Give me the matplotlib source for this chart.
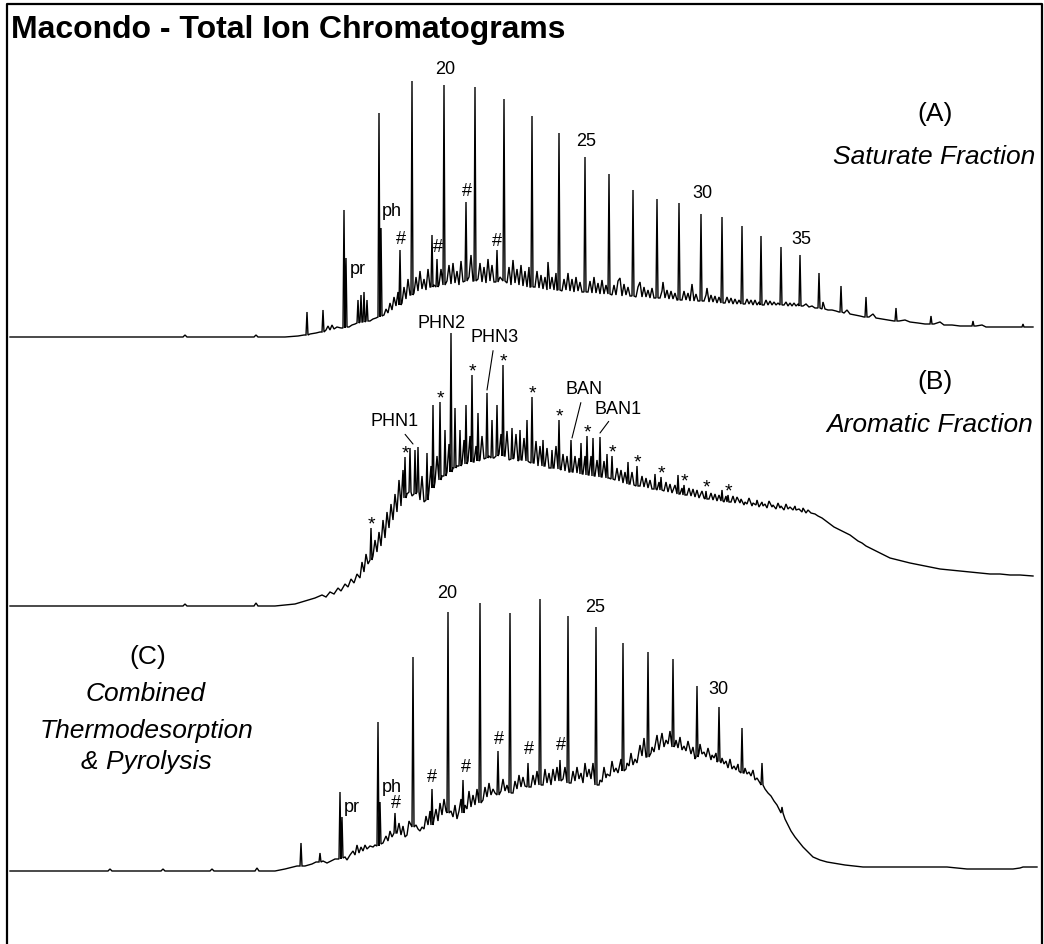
import numpy as np
import matplotlib
matplotlib.use("Agg")
import matplotlib.pyplot as plt

plt.rcParams['font.family'] = ['Liberation Sans', 'DejaVu Sans']

W, H = 1044, 944

# ---------------- (A) saturate fraction ----------------
# baseline / unresolved hump vertices: (scan, abundance)
sat_baseline = [
    (10, 0), (183, 0), (185, 2), (187, 0), (254, 0), (256, 2), (258, 0), (285, 0), (298, 1), (304, 2),
    (310, 3), (316, 4), (320, 5),
    (326, 7), (328, 11), (330, 7), (332, 12), (334, 8), (337, 10), (341, 9),
    (349, 10), (352, 12), (355, 13),
    (370, 16), (373, 18), (376, 19),
    (384, 22), (386, 28), (388, 24), (390, 34), (392, 27), (394, 40), (396, 31), (398, 45),
    (402, 34), (404, 50), (406, 38), (408, 58), (410, 42),
    (414, 44), (416, 60), (418, 46), (420, 66), (422, 48), (424, 58), (426, 47), (428, 68), (430, 50),
    (434, 52), (439, 52), (441, 68),
    (447, 56), (449, 72), (451, 53), (453, 74), (455, 54), (457, 66), (459, 52), (461, 76), (463, 55),
    (469, 60), (471, 82), (473, 56),
    (478, 58), (480, 74), (482, 55), (484, 70), (486, 54), (488, 78), (490, 56), (492, 72), (494, 55),
    (500, 60), (507, 54), (509, 70), (511, 52), (513, 77), (515, 54), (517, 68), (519, 52), (521, 72),
    (523, 51), (525, 66), (527, 50), (529, 70), (530, 50),
    (535, 50), (537, 66), (539, 49), (541, 62), (543, 48), (545, 60), (547, 47), (548, 75), (550, 48),
    (552, 60), (554, 47), (556, 64), (557, 47),
    (562, 46), (564, 58), (566, 47), (568, 64), (570, 46), (572, 58), (574, 45), (576, 60), (578, 46),
    (580, 55), (582, 45),
    (588, 45), (590, 56), (592, 44), (594, 60), (596, 44), (598, 54), (600, 43), (602, 57), (604, 43), (606, 52),
    (612, 42), (614, 52), (616, 42), (618, 56), (620, 59), (622, 41), (624, 53), (626, 42), (628, 50), (630, 41),
    (636, 40), (638, 50), (640, 55), (642, 40), (644, 50), (646, 40), (648, 47), (650, 39), (652, 49), (654, 39),
    (660, 39), (662, 46), (663, 55), (665, 39), (667, 47), (669, 38), (671, 46), (673, 38), (675, 44), (677, 37),
    (682, 37), (684, 46), (686, 37), (688, 44), (690, 36), (692, 53), (694, 36), (696, 43), (698, 36),
    (704, 36), (706, 42), (707, 49), (709, 35), (711, 42), (713, 35), (715, 41), (717, 34), (719, 40),
    (725, 34), (727, 40), (729, 34), (731, 39), (733, 33), (735, 38), (737, 33), (739, 37),
    (745, 33), (747, 38), (749, 33), (751, 37), (753, 32), (755, 37), (757, 32), (759, 35),
    (764, 32), (766, 37), (768, 32), (770, 36), (772, 32), (774, 35), (776, 32), (778, 34),
    (784, 32), (786, 35), (788, 31), (790, 34), (792, 31), (794, 34), (796, 31), (798, 33),
    (803, 31), (806, 33), (809, 30), (812, 31), (815, 29), (817, 29),
    (822, 28), (823, 35), (825, 28), (828, 27), (832, 27), (836, 26), (839, 25),
    (844, 24), (847, 27), (850, 23), (855, 22), (860, 21), (864, 20),
    (869, 20), (873, 23), (876, 19), (882, 18), (888, 17), (894, 16),
    (899, 16), (905, 17), (910, 15), (918, 14), (925, 13), (929, 13),
    (934, 13), (940, 15), (944, 12), (952, 12), (960, 11), (966, 11), (971, 11),
    (976, 11), (982, 12), (986, 10), (995, 10), (1005, 10), (1015, 10), (1021, 10),
    (1026, 10), (1033, 10),
]
sat_peak_x = [307, 323, 344, 346, 358, 361, 364, 367, 379, 381, 400, 412, 432, 437, 444, 466, 475,
              497, 504, 532, 559, 585, 609, 633, 657, 679, 701, 722, 742, 761, 781, 800, 819, 841,
              866, 896, 931, 973, 1023]
sat_peak_foot = [2, 5, 9, 10, 14, 15, 15, 16, 20, 21, 32, 42, 50, 50, 52, 56, 56,
                 55, 56, 50, 47, 45, 43, 41, 39, 37, 36, 34, 33, 32, 32, 31, 29, 25,
                 20, 16, 13, 11, 10]
sat_peak_top = [25, 27, 127, 79, 37, 42, 45, 37, 224, 109, 87, 256, 102, 78, 252, 135, 250,
                87, 238, 221, 204, 180, 163, 147, 138, 134, 123, 120, 111, 101, 90, 82, 64, 51,
                40, 29, 21, 16, 13]

# ---------------- (B) aromatic fraction ----------------
aro_baseline = [
    (10, 0), (183, 0), (185, 2), (187, 0), (254, 0), (256, 3), (258, 0), (275, 0), (285, 1), (295, 2),
    (305, 5), (315, 8), (322, 11), (326, 9), (330, 14), (334, 12), (338, 18), (341, 15), (345, 22),
    (348, 19), (351, 27), (354, 23), (357, 32), (360, 28), (362, 44), (364, 34), (366, 52), (368, 42),
    (373, 50), (375, 66), (377, 54), (379, 74), (381, 60), (383, 86), (385, 68), (387, 94), (389, 78),
    (391, 102), (393, 86), (395, 112), (397, 94), (399, 126), (401, 100), (403, 136),
    (407, 112), (412, 110), (420, 106), (422, 130), (424, 104), (429, 116), (431, 140), (435, 124),
    (437, 150), (442, 130), (447, 134), (449, 162), (453, 138), (457, 140), (462, 142), (464, 166),
    (468, 145), (470, 170), (474, 144), (476, 160), (480, 146), (482, 170), (484, 147), (489, 150),
    (494, 148), (499, 152), (501, 172), (505, 150), (507, 175), (509, 146), (514, 148), (516, 172),
    (518, 145), (522, 146), (524, 168), (529, 144), (534, 143), (536, 165), (538, 140), (540, 160),
    (545, 140), (547, 158), (549, 138), (554, 138), (556, 160), (561, 136), (563, 152), (565, 135),
    (567, 150), (569, 134), (573, 134), (575, 150), (577, 133), (579, 148), (583, 132), (585, 150),
    (589, 131), (591, 150), (595, 130), (597, 146), (602, 129), (604, 145), (609, 128), (615, 126),
    (617, 138), (619, 125), (621, 136), (623, 123), (625, 134), (630, 122), (632, 134), (634, 121),
    (640, 120), (642, 130), (644, 119), (646, 128), (648, 118), (650, 126), (652, 117), (657, 116),
    (659, 124), (664, 115), (666, 124), (668, 114), (670, 122), (672, 113), (675, 121), (680, 112),
    (682, 118), (687, 111), (689, 118), (691, 110), (693, 117), (695, 109), (697, 116), (699, 108),
    (702, 115), (704, 108), (709, 107), (711, 113), (713, 106), (715, 112), (717, 105), (719, 111),
    (724, 104), (726, 110), (731, 104), (733, 110), (735, 103), (737, 109), (740, 103), (741, 107),
    (744, 101), (745, 104), (747, 102), (749, 108), (752, 100), (753, 103), (756, 101), (757, 106),
    (759, 99), (762, 104), (763, 100), (765, 102), (767, 98), (769, 105), (772, 99), (773, 101),
    (776, 97), (778, 103), (780, 98), (781, 100), (784, 96), (786, 102), (788, 97), (790, 99),
    (793, 96), (795, 100), (796, 96), (799, 97), (802, 94), (803, 98), (806, 93), (808, 96), (811, 93),
    (815, 92), (818, 90),
    (822, 88), (826, 85), (830, 82), (834, 79), (838, 77), (842, 75), (846, 73), (850, 71), (854, 68),
    (858, 65), (862, 63), (866, 60), (870, 58), (874, 56), (878, 54), (882, 52), (886, 50), (890, 48),
    (894, 47), (898, 46), (902, 45), (906, 44), (910, 43), (915, 42), (920, 41), (930, 39), (940, 37),
    (950, 36), (960, 35), (970, 34), (980, 33), (990, 32), (1000, 32), (1010, 31), (1020, 31), (1033, 30),
]
aro_peak_x = [371, 405, 410, 415, 418, 427, 433, 440, 445, 451, 455, 460, 466, 472, 478, 487, 492,
              497, 503, 512, 520, 527, 532, 543, 552, 559, 571, 581, 587, 593, 600, 607, 612, 628,
              637, 655, 661, 678, 684, 706, 722, 728]
aro_peak_foot = [46, 108, 114, 112, 114, 106, 118, 126, 130, 134, 138, 140, 142, 144, 145, 148, 148,
                 150, 150, 147, 146, 145, 143, 140, 138, 137, 134, 132, 131, 130, 129, 128, 127, 122,
                 120, 117, 116, 112, 111, 107, 105, 104]
aro_peak_top = [78, 149, 158, 156, 159, 153, 201, 204, 176, 273, 198, 176, 201, 231, 193, 213, 186,
                201, 241, 178, 176, 186, 209, 166, 156, 186, 166, 163, 170, 168, 169, 152, 150, 144,
                140, 132, 129, 131, 121, 115, 116, 111]
aro_starred = [371, 405, 440, 472, 503, 532, 559, 587, 612, 637, 661, 684, 706, 728]

# ---------------- (C) thermodesorption + pyrolysis ----------------
comb_baseline = [
    (10, 0), (108, 0), (110, 2), (112, 0), (161, 0), (163, 2), (165, 0), (210, 0), (212, 2), (214, 0),
    (255, 0), (257, 3), (259, 0), (275, 0), (285, 2), (293, 4), (297, 5), (305, 5), (312, 7), (316, 9),
    (323, 10), (327, 8), (331, 10), (335, 12), (345, 14), (347, 11), (350, 16), (353, 20), (355, 16),
    (357, 26), (359, 18), (361, 24), (363, 20), (365, 26), (367, 22), (370, 25), (373, 24), (375, 26),
    (383, 28), (386, 35), (388, 30), (390, 40), (392, 34), (397, 38), (399, 48), (401, 36), (403, 45),
    (405, 34), (407, 36), (409, 50), (416, 46), (418, 42), (420, 40), (422, 44), (424, 42), (426, 55),
    (428, 46), (430, 60), (434, 52), (436, 62), (438, 50), (440, 68), (442, 56), (444, 72), (446, 60),
    (451, 60), (453, 54), (455, 66), (457, 52), (459, 60), (461, 72), (465, 66), (467, 62), (469, 80),
    (471, 64), (473, 76), (475, 66), (477, 82), (483, 71), (485, 84), (487, 74), (489, 88), (491, 76),
    (493, 82), (495, 78), (501, 80), (503, 92), (505, 80), (507, 86), (513, 78), (515, 90), (517, 82),
    (519, 96), (521, 84), (523, 94), (525, 85), (531, 84), (533, 96), (535, 86), (537, 100), (543, 86),
    (545, 102), (547, 88), (549, 98), (551, 86), (553, 102), (555, 90), (557, 104), (563, 92),
    (565, 104), (571, 88), (573, 100), (575, 90), (577, 104), (579, 92), (581, 98), (583, 88),
    (585, 108), (587, 94), (589, 102), (591, 92), (593, 108), (599, 86), (600, 91), (602, 89),
    (604, 104), (606, 93), (607, 97), (610, 95), (612, 110), (614, 99), (616, 103), (618, 98),
    (621, 112), (626, 102), (627, 108), (629, 105), (631, 118), (633, 106), (635, 112), (637, 108),
    (640, 126), (642, 115), (644, 133), (646, 114), (651, 118), (652, 124), (654, 119), (657, 136),
    (659, 121), (660, 127), (662, 138), (664, 124), (666, 131), (668, 127), (670, 140), (675, 126),
    (676, 131), (678, 123), (680, 134), (682, 121), (684, 125), (686, 120), (688, 130), (691, 117),
    (693, 124), (695, 112), (699, 118), (700, 127), (702, 117), (704, 119), (706, 114), (708, 123),
    (711, 111), (712, 116), (714, 113), (716, 118), (717, 109), (721, 108), (722, 113), (724, 107),
    (726, 110), (728, 103), (730, 112), (732, 102), (734, 105), (736, 101), (738, 107), (739, 100),
    (744, 98), (745, 103), (747, 97), (749, 99), (751, 95), (753, 101), (755, 91), (757, 93), (760, 88),
    (765, 82), (768, 78), (771, 75),
    (774, 70), (777, 66), (780, 60), (785, 52), (788, 46), (791, 40), (795, 34), (799, 29), (803, 24),
    (808, 19), (813, 14), (820, 11), (827, 9), (833, 8), (845, 6), (863, 4), (880, 4), (900, 4),
    (913, 4), (930, 4), (947, 4), (957, 3), (967, 2), (990, 2), (1013, 2), (1020, 3), (1023, 4), (1037, 4),
]
comb_peak_x = [301, 320, 340, 342, 378, 380, 395, 413, 432, 448, 463, 480, 498, 510, 528, 540, 560,
               568, 596, 623, 648, 673, 697, 719, 742, 762, 782]
comb_peak_foot = [5, 9, 12, 13, 25, 27, 38, 44, 46, 58, 58, 68, 76, 78, 84, 86, 90,
                  88, 86, 100, 114, 124, 114, 110, 98, 86, 58]
comb_peak_top = [28, 18, 79, 54, 149, 69, 58, 214, 82, 259, 91, 268, 120, 258, 108, 272, 111,
                 255, 244, 228, 219, 212, 185, 164, 143, 108, 64]

# vertical offsets of the stacked chromatograms
sat_offset, aro_offset, comb_offset = 607, 338, 73


def build_trace(baseline, peak_x, peak_foot, peak_top, half_width=1.0):
    xs = [p[0] for p in baseline]
    ys = [p[1] for p in baseline]
    for x, f, t in zip(peak_x, peak_foot, peak_top):
        xs += [x - half_width, x, x + half_width]
        ys += [f, t, f]
    order = np.argsort(xs, kind="stable")
    return np.asarray(xs, float)[order], np.asarray(ys, float)[order]


def top_of(peak_x, peak_top, x):
    return peak_top[peak_x.index(x)]


fig = plt.figure(figsize=(W / 100, H / 100), dpi=100)
ax = fig.add_axes([0, 0, 1, 1])
ax.set_xlim(0, W)
ax.set_ylim(0, H)
ax.axis("off")

for base, px, pf, pt, off in [
    (sat_baseline, sat_peak_x, sat_peak_foot, sat_peak_top, sat_offset),
    (aro_baseline, aro_peak_x, aro_peak_foot, aro_peak_top, aro_offset),
    (comb_baseline, comb_peak_x, comb_peak_foot, comb_peak_top, comb_offset),
]:
    x, y = build_trace(base, px, pf, pt)
    ax.plot(x, y + off, color="black", lw=1.0, solid_joinstyle="miter")

# outer frame
ax.plot([7, 7, 1042, 1042], [-5, H - 4, H - 4, -5], color="black", lw=1.6, clip_on=False)

lab = dict(fontsize=13, textcoords="offset pixels", va="center")


def tag(text, px, pt, off, x, dx, dy, ha="center"):
    ax.annotate(text, xy=(x, off + top_of(px, pt, x)), xytext=(dx, dy), ha=ha, **lab)


# (A) labels
tag("pr", sat_peak_x, sat_peak_top, sat_offset, 344, 6, -60, ha="left")
tag("ph", sat_peak_x, sat_peak_top, sat_offset, 379, 3, -98, ha="left")
for xx, dx, dy in [(400, 1, 11), (437, 1, 12), (466, 1, 10), (497, 0, 9)]:
    tag("#", sat_peak_x, sat_peak_top, sat_offset, xx, dx, dy)
for txt, xx, dy in [("20", 444, 15), ("25", 585, 16), ("30", 701, 21), ("35", 800, 16)]:
    tag(txt, sat_peak_x, sat_peak_top, sat_offset, xx, 1, dy)

# (B) labels
for xx in aro_starred:
    ax.annotate("*", xy=(xx, aro_offset + top_of(aro_peak_x, aro_peak_top, xx)), xytext=(0, -1),
                textcoords="offset pixels", ha="center", va="baseline", fontsize=14)
tag("PHN2", aro_peak_x, aro_peak_top, aro_offset, 451, -9, 9)
leader = dict(arrowstyle="-", lw=0.8, color="black", shrinkA=1, shrinkB=0)
for txt, xx, yy, dx, dy in [("PHN1", 413, 162, -18, 22), ("PHN3", 487, 216, 8, 52),
                            ("BAN", 572, 168, 12, 48), ("BAN1", 600, 173, 18, 24)]:
    ax.annotate(txt, xy=(xx, aro_offset + yy), xytext=(dx, dy), ha="center", arrowprops=leader, **lab)

# (C) labels
tag("pr", comb_peak_x, comb_peak_top, comb_offset, 340, 4, -15, ha="left")
tag("ph", comb_peak_x, comb_peak_top, comb_offset, 378, 4, -65, ha="left")
for xx, dx, dy in [(395, 1, 9), (432, 0, 12), (463, 3, 12), (498, 1, 11), (528, 1, 13), (560, 1, 14)]:
    tag("#", comb_peak_x, comb_peak_top, comb_offset, xx, dx, dy)
for txt, xx, dy in [("20", 448, 18), ("25", 596, 19), ("30", 719, 18)]:
    tag(txt, comb_peak_x, comb_peak_top, comb_offset, xx, -1, dy)

# panel captions
ax.text(11, H - 38, "Macondo - Total Ion Chromatograms", fontsize=23, fontweight="bold",
        ha="left", va="baseline")
cap = dict(fontsize=19, ha="center", va="center")
ax.text(935, H - 114, "(A)", **cap)
ax.text(934, H - 157, "Saturate Fraction", style="italic", **cap)
ax.text(935, H - 382, "(B)", **cap)
ax.text(930, H - 425, "Aromatic Fraction", style="italic", **cap)
ax.text(148, H - 657, "(C)", **cap)
ax.text(146, H - 694, "Combined", style="italic", **cap)
ax.text(146, H - 731, "Thermodesorption", style="italic", **cap)
ax.text(146, H - 762, "& Pyrolysis", style="italic", **cap)

fig.savefig("out.png", dpi=100, facecolor="white")
